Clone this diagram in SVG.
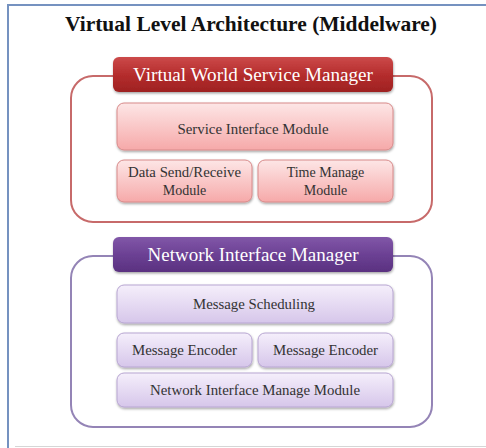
<svg xmlns="http://www.w3.org/2000/svg" width="486" height="448" viewBox="0 0 486 448">
  <defs>
    <linearGradient id="redHead" x1="0" y1="0" x2="0" y2="1">
      <stop offset="0" stop-color="#cc4a4a"/>
      <stop offset="0.5" stop-color="#b52d2d"/>
      <stop offset="1" stop-color="#9e2222"/>
    </linearGradient>
    <linearGradient id="pinkBox" x1="0" y1="0" x2="0" y2="1">
      <stop offset="0" stop-color="#fde6e6"/>
      <stop offset="1" stop-color="#f6a9a9"/>
    </linearGradient>
    <linearGradient id="purpleHead" x1="0" y1="0" x2="0" y2="1">
      <stop offset="0" stop-color="#8157a8"/>
      <stop offset="0.5" stop-color="#6c4194"/>
      <stop offset="1" stop-color="#5a3180"/>
    </linearGradient>
    <linearGradient id="lilacBox" x1="0" y1="0" x2="0" y2="1">
      <stop offset="0" stop-color="#f5effb"/>
      <stop offset="1" stop-color="#d6c6ea"/>
    </linearGradient>
    <filter id="shadow" x="-10%" y="-20%" width="120%" height="150%">
      <feDropShadow dx="0.5" dy="1.5" stdDeviation="1.2" flood-color="#000" flood-opacity="0.35"/>
    </filter>
  </defs>
  <style>
    .title { font-family: "Liberation Serif", "Times New Roman", serif; font-weight: bold; font-size: 21px; fill: #111; }
    .head { font-family: "Liberation Serif", "Times New Roman", serif; font-size: 18.5px; fill: #ffffff; }
    .lbl { font-family: "Liberation Serif", "Times New Roman", serif; font-size: 14px; fill: #333; }
    .red-frame { fill: none; stroke: #c76a6a; stroke-width: 2; }
    .purple-frame { fill: none; stroke: #9484b6; stroke-width: 2; }
    .red-box { fill: url(#pinkBox); stroke: #d88a8a; stroke-width: 1; filter: url(#shadow); }
    .purple-box { fill: url(#lilacBox); stroke: #b8a6d2; stroke-width: 1; filter: url(#shadow); }
  </style>

  <!-- page frame -->
  <rect x="0" y="0" width="486" height="448" fill="#ffffff"/>
  <line x1="8" y1="5" x2="486" y2="5" stroke="#7592c0" stroke-width="2"/>
  <line x1="8" y1="4" x2="8" y2="448" stroke="#7592c0" stroke-width="2"/>
  <line x1="15" y1="446.5" x2="486" y2="446.5" stroke="#d6d6d6" stroke-width="1"/>

  <text class="title" x="251" y="31" text-anchor="middle" textLength="372" lengthAdjust="spacingAndGlyphs">Virtual Level Architecture (Middelware)</text>

  <!-- connectors (none between nodes) -->
  <g id="connectors"/>

  <!-- Virtual World Service Manager layer -->
  <g id="vwsm">
    <rect class="red-frame" x="71" y="76" width="361" height="146" rx="22"/>
    <rect x="113" y="57" width="280" height="35" rx="6" fill="url(#redHead)" filter="url(#shadow)"/>
    <text class="head" x="253" y="81" text-anchor="middle" textLength="240" lengthAdjust="spacingAndGlyphs">Virtual World Service Manager</text>
  </g>
  <g id="service-interface">
    <rect class="red-box" x="117" y="103" width="276" height="47" rx="7"/>
    <text class="lbl" x="253" y="134" text-anchor="middle" textLength="151" lengthAdjust="spacingAndGlyphs">Service Interface Module</text>
  </g>
  <g id="data-send-receive">
    <rect class="red-box" x="117" y="160" width="135" height="42" rx="7"/>
    <text class="lbl" x="184.5" y="177" text-anchor="middle" textLength="113" lengthAdjust="spacingAndGlyphs">Data Send/Receive</text>
    <text class="lbl" x="184.5" y="195" text-anchor="middle">Module</text>
  </g>
  <g id="time-manage">
    <rect class="red-box" x="258" y="160" width="135" height="42" rx="7"/>
    <text class="lbl" x="325.5" y="177" text-anchor="middle">Time Manage</text>
    <text class="lbl" x="325.5" y="195" text-anchor="middle">Module</text>
  </g>

  <!-- Network Interface Manager layer -->
  <g id="nim">
    <rect class="purple-frame" x="71" y="256" width="361" height="171" rx="22"/>
    <rect x="113" y="237" width="280" height="35" rx="6" fill="url(#purpleHead)" filter="url(#shadow)"/>
    <text class="head" x="253" y="261" text-anchor="middle" textLength="211" lengthAdjust="spacingAndGlyphs">Network Interface Manager</text>
  </g>
  <g id="message-scheduling">
    <rect class="purple-box" x="117" y="285" width="276" height="38" rx="7"/>
    <text class="lbl" x="254" y="309" text-anchor="middle" textLength="122" lengthAdjust="spacingAndGlyphs">Message Scheduling</text>
  </g>
  <g id="message-encoder-1">
    <rect class="purple-box" x="117" y="333" width="135" height="34" rx="7"/>
    <text class="lbl" x="184.5" y="354.5" text-anchor="middle" textLength="105" lengthAdjust="spacingAndGlyphs">Message Encoder</text>
  </g>
  <g id="message-encoder-2">
    <rect class="purple-box" x="258" y="333" width="135" height="34" rx="7"/>
    <text class="lbl" x="325.5" y="354.5" text-anchor="middle" textLength="105" lengthAdjust="spacingAndGlyphs">Message Encoder</text>
  </g>
  <g id="network-interface-manage">
    <rect class="purple-box" x="117" y="373" width="276" height="34" rx="7"/>
    <text class="lbl" x="255" y="395" text-anchor="middle" textLength="210" lengthAdjust="spacingAndGlyphs">Network Interface Manage Module</text>
  </g>
</svg>
